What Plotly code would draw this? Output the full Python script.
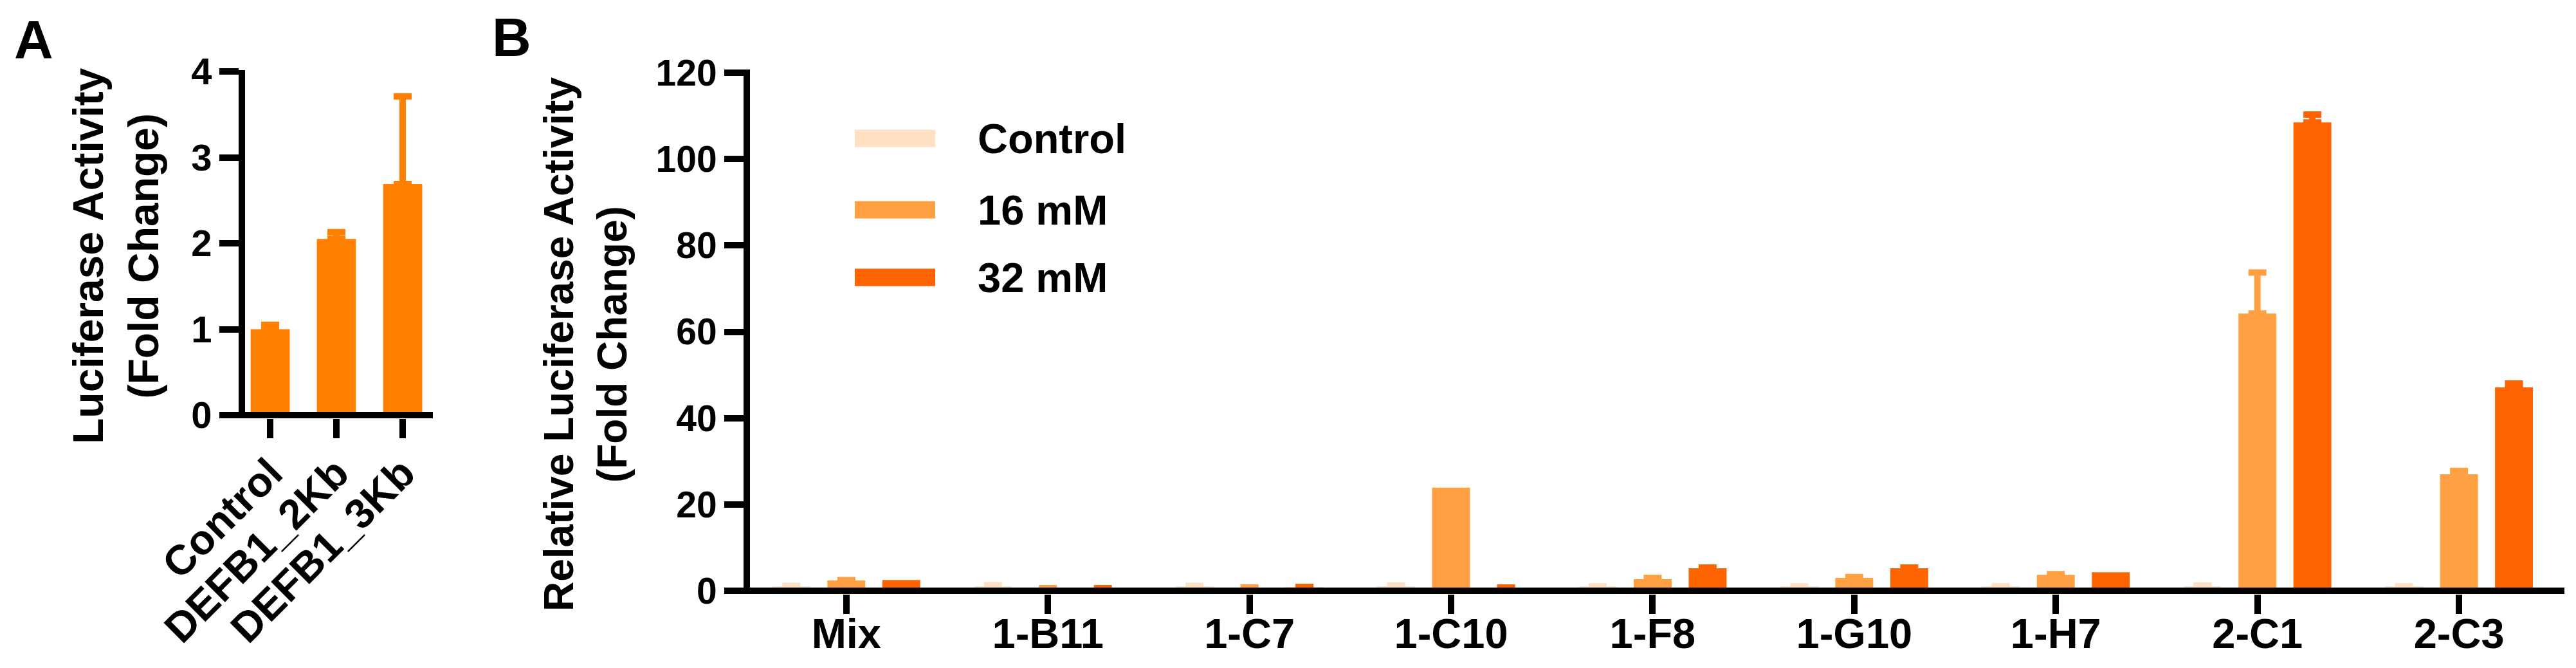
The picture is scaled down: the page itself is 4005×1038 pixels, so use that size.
import plotly.graph_objects as go

W, H = 4005, 1038

# ---------------- data ----------------
a_categories = ["Control", "DEFB1_2Kb", "DEFB1_3Kb"]
a_values = [1.0, 2.05, 2.69]
a_errors = [0.05, 0.08, 1.02]

b_categories = ["Mix", "1-B11", "1-C7", "1-C10", "1-F8", "1-G10", "1-H7", "2-C1", "2-C3"]
series_names = ["Control", "16 mM", "32 mM"]
control_values = [1.0, 1.0, 1.0, 1.0, 1.0, 1.0, 1.0, 1.0, 1.0]
control_errors = [0.1, 0.3, 0.1, 0.2, 0.05, 0.05, 0.05, 0.2, 0.05]
mm16_values = [2.4, 0.5, 0.7, 23.9, 2.7, 3.0, 3.7, 64.2, 27.0]
mm16_errors = [0.05, 0.1, 0.05, None, 0.3, 0.15, 0.15, 9.5, 0.75]
mm32_values = [2.5, 0.5, 0.8, 0.7, 5.2, 5.2, 4.3, 108.5, 47.1]
mm32_errors = [None, 0.1, 0.1, 0.05, 0.15, 0.15, None, 1.8, 0.9]

a_yticks = [0, 1, 2, 3, 4]
b_yticks = [0, 20, 40, 60, 80, 100, 120]

# ---------------- style ----------------
FONT = "Liberation Sans"
A_COLOR = "#FF8000"
B_COLORS = ["#FFE0C2", "#FFA143", "#FF6300"]
LW = 10


def px_x(p):
    return p / W


def px_y(p):
    return 1 - p / H


def err_plus(errs):
    # "NaN" (not null) so plotly.js skips bars without an error bar
    return [e if e is not None else "NaN" for e in errs]


def err_minus(errs):
    return [0 if e is not None else "NaN" for e in errs]


fig = go.Figure()

fig.add_trace(go.Bar(
    x=a_categories, y=a_values, width=0.59,
    marker=dict(color=A_COLOR, line=dict(width=0)),
    error_y=dict(type="data", symmetric=False, array=err_plus(a_errors),
                 arrayminus=err_minus(a_errors), thickness=LW, width=14, color=A_COLOR),
    xaxis="x", yaxis="y", showlegend=False,
))

b_series = [(control_values, control_errors), (mm16_values, mm16_errors), (mm32_values, mm32_errors)]
for name, color, (vals, errs) in zip(series_names, B_COLORS, b_series):
    fig.add_trace(go.Bar(
        x=b_categories, y=vals, name=name,
        marker=dict(color=color, line=dict(width=0)),
        error_y=dict(type="data", symmetric=False, array=err_plus(errs),
                     arrayminus=err_minus(errs), thickness=LW, width=14, color=color),
        xaxis="x2", yaxis="y2", showlegend=False,
    ))

axis_common = dict(showgrid=False, zeroline=False, ticks="outside", ticklen=30,
                   tickwidth=LW, tickcolor="black", linecolor="black", automargin=False)

a_xrange = [-0.379, 2.456]
b_xrange = [-0.478, 8.523]

fig.update_layout(
    template="none",
    width=W, height=H,
    margin=dict(l=0, r=0, t=0, b=0, pad=0, autoexpand=False),
    paper_bgcolor="white", plot_bgcolor="white",
    showlegend=False,
    barmode="group", bargap=0.182, bargroupgap=0.31,
    font=dict(family=FONT, color="black"),
    xaxis=dict(domain=[px_x(373), px_x(665)], range=a_xrange, anchor="y",
               showline=False, tickangle=-45, ticklabelstandoff=-10,
               tickfont=dict(family=FONT, size=65, weight="bold"), **axis_common),
    yaxis=dict(domain=[px_y(642), px_y(101)], range=[-0.0375, 4.015], anchor="x",
               showline=True, linewidth=LW, tickvals=a_yticks,
               tickfont=dict(family=FONT, size=58, weight="bold"), **axis_common),
    xaxis2=dict(domain=[px_x(1158), px_x(3979)], range=b_xrange, anchor="y2",
                showline=False, ticklabelstandoff=-25,
                tickfont=dict(family=FONT, size=65, weight="bold"), **axis_common),
    yaxis2=dict(domain=[px_y(915), px_y(100)], range=[-0.745, 120.75], anchor="x2",
                showline=True, linewidth=LW, tickvals=b_yticks,
                tickfont=dict(family=FONT, size=57, weight="bold"), **axis_common),
)

# x-axis baselines drawn through value 0 (GraphPad style)
fig.add_shape(type="line", xref="x", yref="y", x0=a_xrange[0], x1=a_xrange[1], y0=0, y1=0,
              line=dict(color="black", width=LW), layer="above")
fig.add_shape(type="line", xref="x2", yref="y2", x0=b_xrange[0], x1=b_xrange[1], y0=0, y1=0,
              line=dict(color="black", width=LW), layer="above")

# panel letters
fig.add_annotation(text="A", x=px_x(12), y=px_y(54), xref="paper", yref="paper",
                   xanchor="left", yanchor="middle", showarrow=False,
                   font=dict(family=FONT, size=84, weight="bold"))
fig.add_annotation(text="B", x=px_x(755), y=px_y(50), xref="paper", yref="paper",
                   xanchor="left", yanchor="middle", showarrow=False,
                   font=dict(family=FONT, size=84, weight="bold"))

# y-axis titles
fig.add_annotation(text="Luciferase Activity<br>(Fold Change)", x=px_x(172), y=px_y(390),
                   xref="paper", yref="paper", textangle=-90, showarrow=False,
                   xanchor="center", yanchor="middle",
                   font=dict(family=FONT, size=66, weight="bold"))
fig.add_annotation(text="Relative Luciferase Activity<br>(Fold Change)", x=px_x(902), y=px_y(527),
                   xref="paper", yref="paper", textangle=-90, showarrow=False,
                   xanchor="center", yanchor="middle",
                   font=dict(family=FONT, size=64, weight="bold"))

# legend (swatches + labels)
legend_rows = [207, 318, 423]
for name, color, yc in zip(series_names, B_COLORS, legend_rows):
    fig.add_shape(type="rect", xref="paper", yref="paper",
                  x0=px_x(1321), x1=px_x(1446), y0=px_y(yc + 13.5), y1=px_y(yc - 13.5),
                  fillcolor=color, line=dict(width=0))
    fig.add_annotation(text=name, x=px_x(1510), y=px_y(yc), xref="paper", yref="paper",
                       xanchor="left", yanchor="middle", showarrow=False,
                       font=dict(family=FONT, size=65, weight="bold"))

fig.write_html("out.html")
